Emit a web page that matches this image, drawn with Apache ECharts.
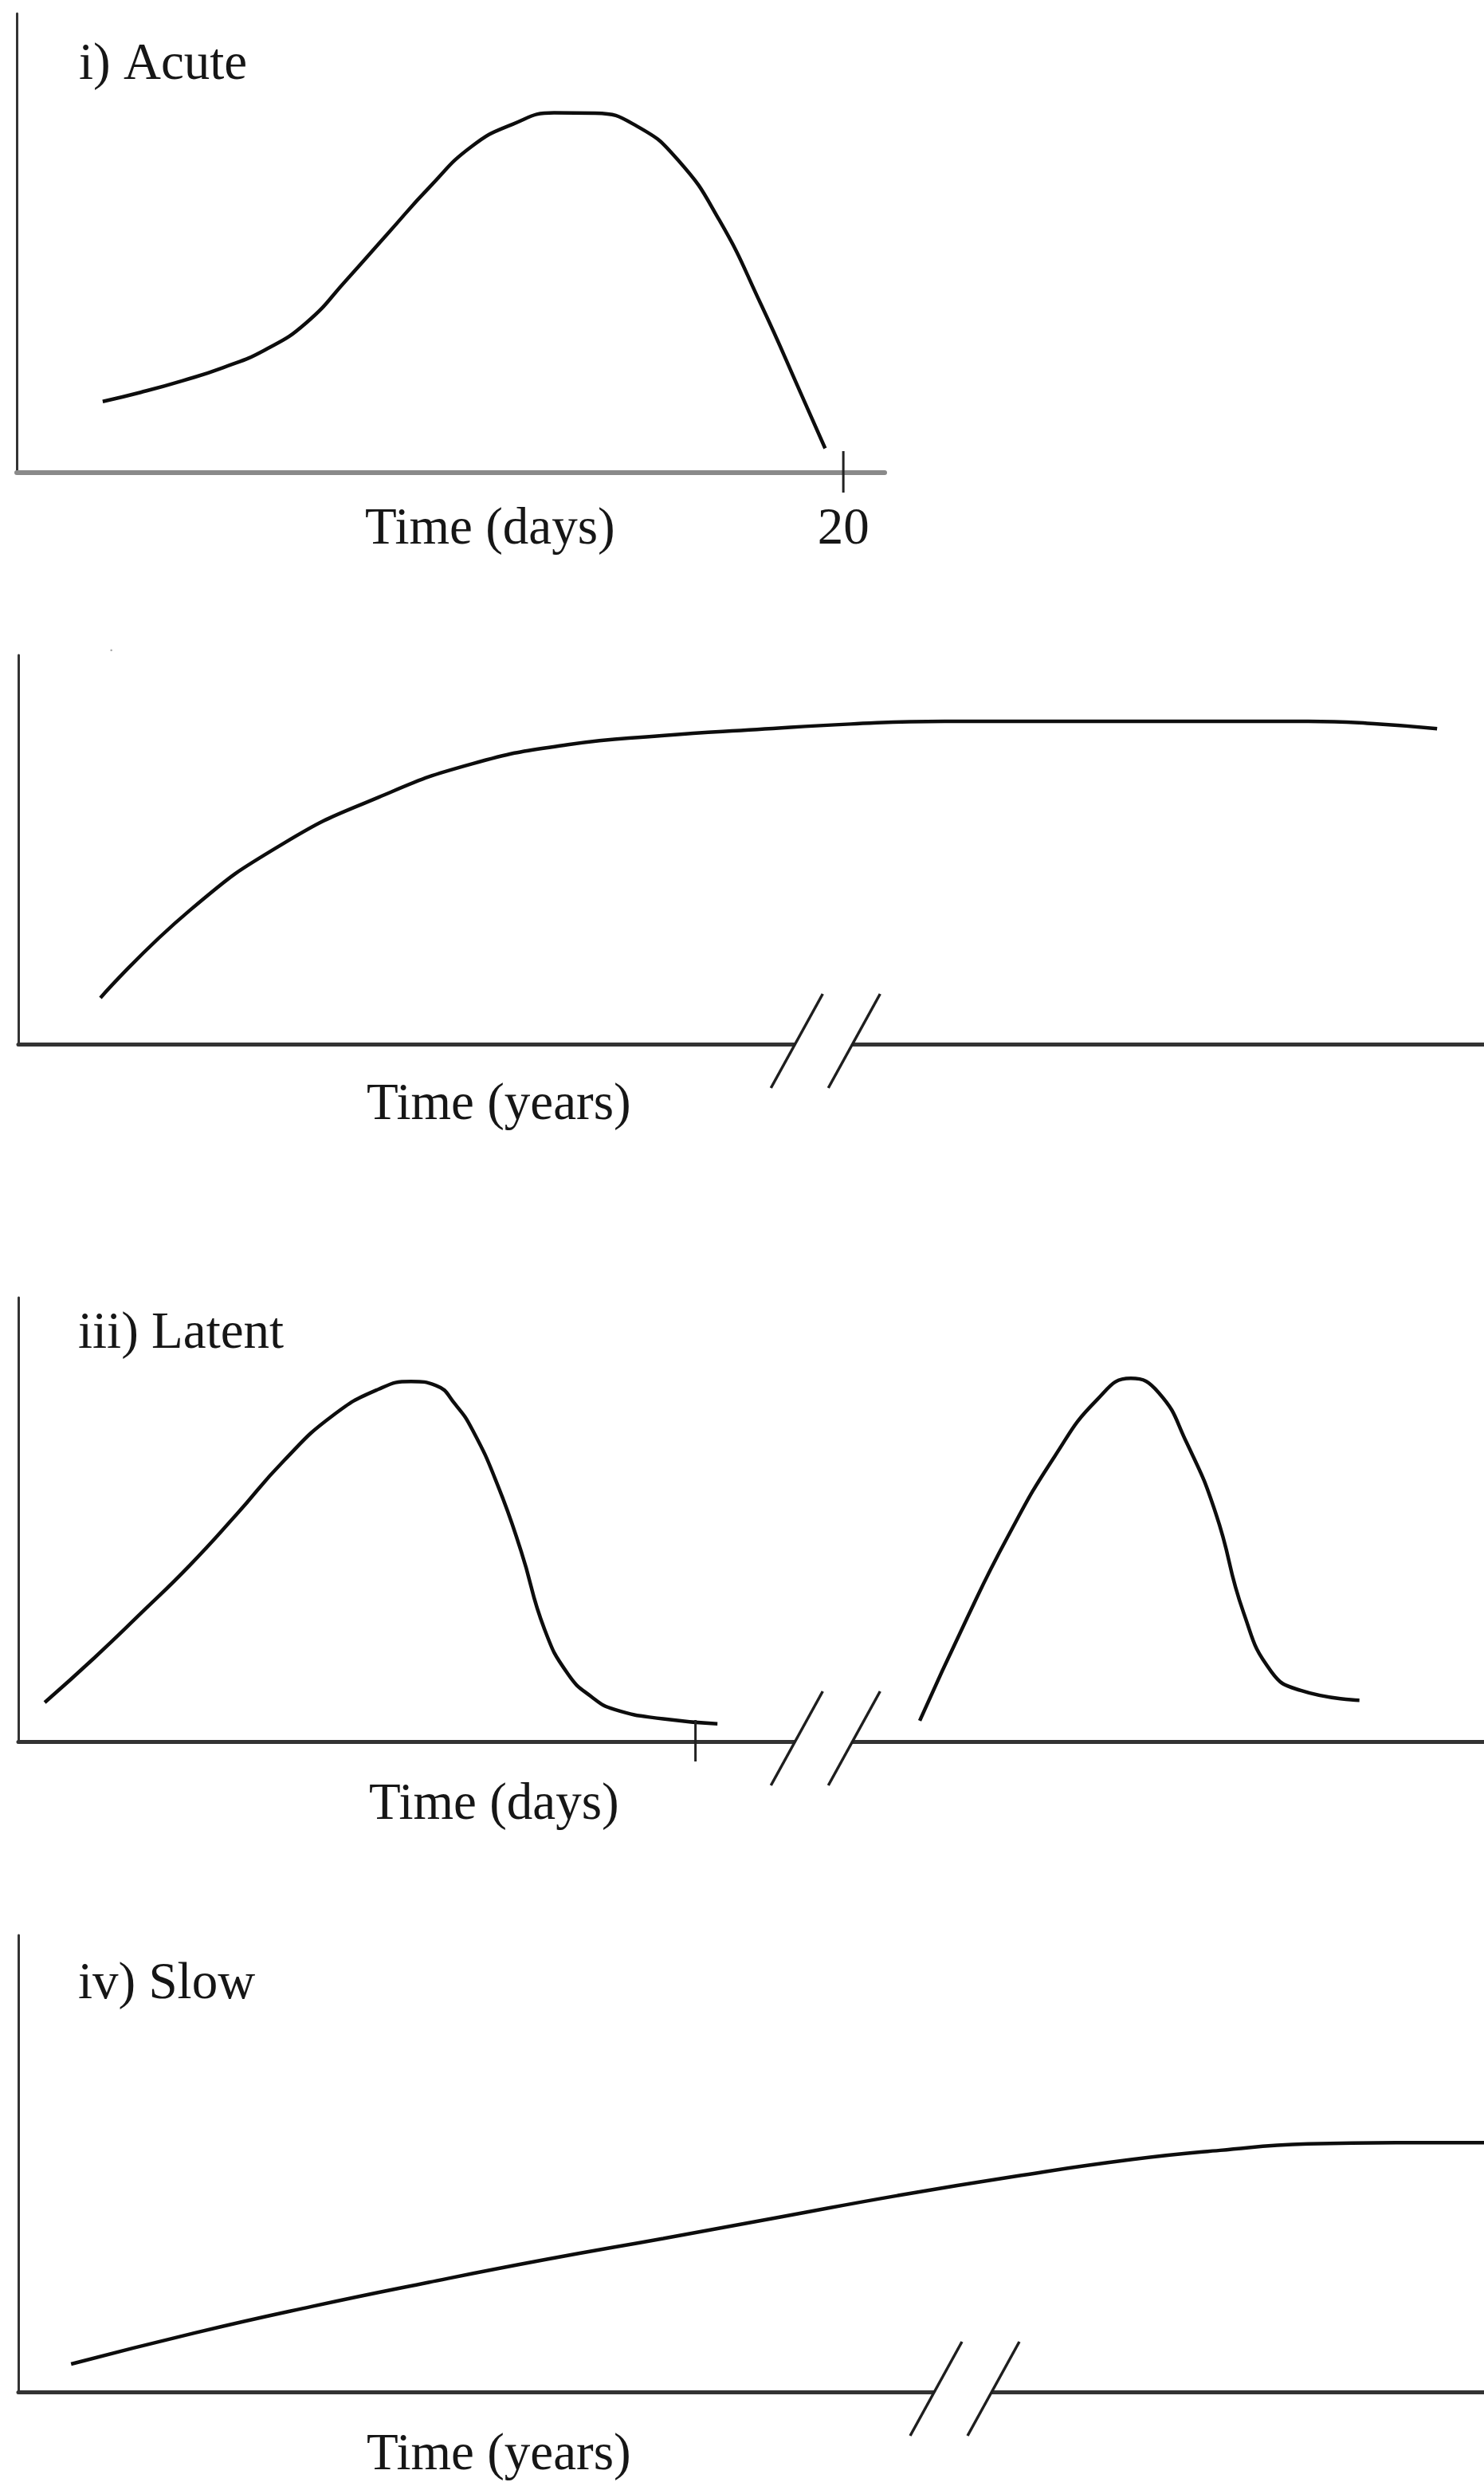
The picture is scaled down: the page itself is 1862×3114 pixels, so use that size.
<!DOCTYPE html>
<html><head><meta charset="utf-8">
<script src="https://cdn.jsdelivr.net/npm/echarts@6/dist/echarts.min.js"></script>
<style>html,body{margin:0;padding:0;background:#fff}#c{width:1862px;height:3114px}</style>
</head><body><div id="c"></div>
<script>
// ---- data (arbitrary units; x = time, y = level) ----
const acuteDays  = [2.08, 3, 4, 5, 6, 7, 8, 9, 10, 11, 12, 13, 14, 15, 16, 17, 18, 19, 19.56];
const acuteLevel = [15.5, 17.5, 20.0, 22.9, 26.7, 32.6, 42.2, 52.3, 62.3, 71.0, 75.9, 78.4, 78.3, 75.5, 68.1, 55.0, 36.8, 16.7, 5.3];

const chronicTime  = [5.6, 11.7, 18.1, 24.6, 31.0, 37.5, 43.9, 50.4, 56.8, 63.2, 70, 80, 88, 92.5, 96.8];
const chronicLevel = [11.9, 34.4, 51.6, 63.5, 72.1, 77.0, 79.3, 80.9, 82.3, 83.0, 83.0, 83.0, 83.0, 82.4, 81.1];

const latentTimeA  = [1.8, 5.2, 8.4, 11.7, 14.9, 18.1, 21.4, 24.6, 26.8, 28.5, 29.8, 31.0, 32.7, 34.3, 35.9, 37.5, 39.1, 40.7, 44.0, 47.7];
const latentLevelA = [8.8, 18.9, 29.0, 39.7, 51.2, 63.2, 73.3, 79.4, 81.1, 80.2, 76.0, 70.1, 57.8, 42.9, 25.3, 15.2, 10.1, 7.2, 5.1, 4.0];
const latentTimeB  = [61.5, 64.6, 67.5, 70.7, 73.6, 75.9, 77.8, 79.7, 81.7, 83.6, 85.5, 87.5, 91.5];
const latentLevelB = [4.7, 26.9, 46.1, 64.2, 77.0, 81.8, 78.6, 67.4, 51.4, 29.0, 15.7, 11.5, 9.3];

const slowTime  = [3.6, 12, 20, 28, 36, 44, 52, 60, 68, 76, 82, 88, 94, 100];
const slowLevel = [6.1, 12.9, 18.7, 24.0, 29.0, 33.6, 38.3, 43.0, 47.2, 50.9, 52.9, 54.3, 54.6, 54.6];

const acuteTicks  = [20];
const latentTicks = [46.2];
const chronicBreaks = [55.1];
const latentBreaks  = [55.1];
const slowBreaks    = [64.6];

const panelTitles = ['i) Acute', '', 'iii) Latent', 'iv) Slow'];
const axisTitles  = ['Time (days)', 'Time (years)', 'Time (days)', 'Time (years)'];
const acuteTickLabel = '20';

// ---- build ----
const zip = (xs, ys) => xs.map((x, i) => [x, ys[i]]);
const FONT = 'Liberation Serif';
const INK = '#161616';

const grids = [
  {left: 21, top: 17,   width: 1089, height: 576},
  {left: 23, top: 822,  width: 1839, height: 488},
  {left: 23, top: 1628, width: 1839, height: 557},
  {left: 23, top: 2428, width: 1839, height: 573}
];
const xMax = [21, 100, 100, 100];

const xAxes = grids.map((g, i) => ({
  gridIndex: i, type: 'value', min: 0, max: xMax[i], interval: i === 0 ? 20 : 50,
  axisLine: {show: true, onZero: false, lineStyle: {color: i === 0 ? '#8a8a8a' : '#333', width: i === 0 ? 6 : 5}},
  axisTick: {show: false}, splitLine: {show: false},
  axisLabel: {show: i === 0, margin: 39, fontSize: 65, fontFamily: FONT, color: INK,
    formatter: v => (v === 20 ? acuteTickLabel : '')}
}));
const yAxes = grids.map((g, i) => ({
  gridIndex: i, type: 'value', min: 0, max: 100,
  axisLine: {show: true, lineStyle: {color: '#333', width: 3}},
  axisTick: {show: false}, splitLine: {show: false}, axisLabel: {show: false}
}));

function curve(idx, data) {
  return {type: 'line', xAxisIndex: idx, yAxisIndex: idx, data: data, smooth: 0.5,
    showSymbol: false, symbol: 'none', lineStyle: {color: '#0d0d0d', width: 4.5}, z: 3};
}
function renderTick(params, api) {
  const p = api.coord([api.value(0), 0]);
  return {type: 'line', shape: {x1: p[0], y1: p[1] - 27, x2: p[0], y2: p[1] + 25},
    style: {stroke: '#222', lineWidth: 3}};
}
function renderBreak(params, api) {
  const p = api.coord([api.value(0), 0]);
  const cx = p[0], cy = p[1];
  return {type: 'group', children: [
    {type: 'rect', shape: {x: cx - 39, y: cy - 5, width: 72, height: 10}, style: {fill: '#fff'}},
    {type: 'line', shape: {x1: cx - 4, y1: cy - 63, x2: cx - 69, y2: cy + 55}, style: {stroke: '#1e1e1e', lineWidth: 3.5}},
    {type: 'line', shape: {x1: cx + 68, y1: cy - 63, x2: cx + 3, y2: cy + 55}, style: {stroke: '#1e1e1e', lineWidth: 3.5}}
  ]};
}
function marks(idx, vals, fn) {
  return {type: 'custom', xAxisIndex: idx, yAxisIndex: idx, clip: false, z: 4,
    data: vals.map(v => [v, 0]), renderItem: fn};
}

const titlePos = [[99, 49], [0, 0], [98, 1641], [98, 2457]];
const axisTitlePos = [[458, 632], [460, 1354], [463, 2232], [460, 3048]];
const titles = [];
panelTitles.forEach((t, i) => { if (t) titles.push({text: t, left: titlePos[i][0], top: titlePos[i][1]}); });
axisTitles.forEach((t, i) => titles.push({text: t, left: axisTitlePos[i][0], top: axisTitlePos[i][1]}));
titles.forEach(t => { t.padding = 0; t.textStyle = {fontFamily: FONT, fontSize: 65, fontWeight: 'normal', color: INK}; });
titles.push({text: '\u00b7', left: 136, top: 806, padding: 0, textStyle: {fontFamily: FONT, fontSize: 22, color: '#aaa', fontWeight: 'normal'}});

const chart = echarts.init(document.getElementById('c'));
chart.setOption({
  animation: false,
  backgroundColor: '#fff',
  title: titles,
  grid: grids,
  xAxis: xAxes,
  yAxis: yAxes,
  series: [
    curve(0, zip(acuteDays, acuteLevel)),
    curve(1, zip(chronicTime, chronicLevel)),
    curve(2, zip(latentTimeA, latentLevelA)),
    curve(2, zip(latentTimeB, latentLevelB)),
    curve(3, zip(slowTime, slowLevel)),
    marks(0, acuteTicks, renderTick),
    marks(2, latentTicks, renderTick),
    marks(1, chronicBreaks, renderBreak),
    marks(2, latentBreaks, renderBreak),
    marks(3, slowBreaks, renderBreak)
  ]
});
</script></body></html>
